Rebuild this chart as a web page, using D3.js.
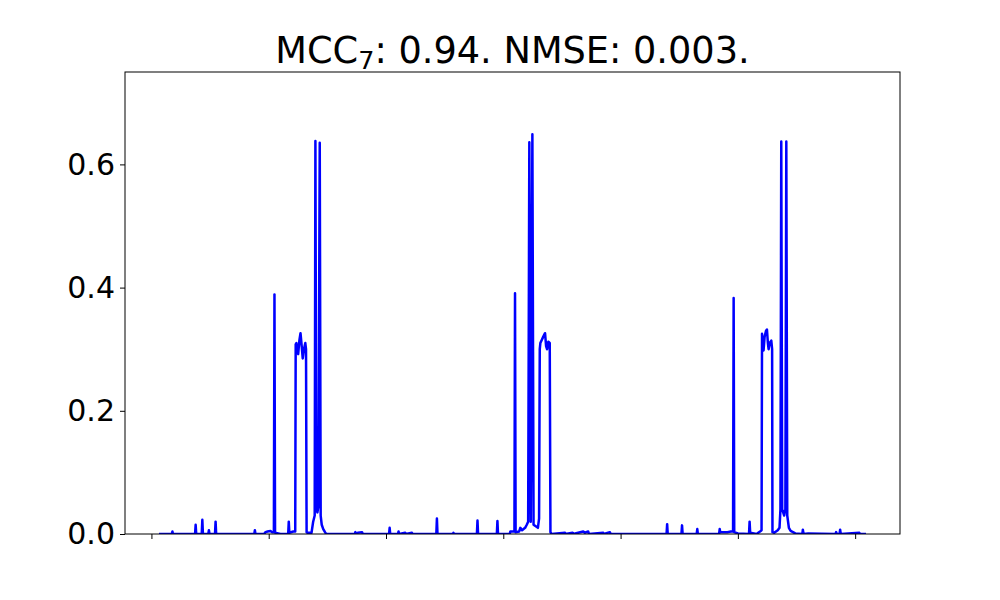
<!DOCTYPE html>
<html>
<head>
<meta charset="utf-8">
<script src="https://cdn.jsdelivr.net/npm/d3@7"></script>
<style>
  html, body { margin: 0; padding: 0; background: #fff; }
  svg { display: block; }
</style>
</head>
<body>
<svg id="chart" width="1000" height="600"></svg>
<script>
// ---- data ----
const titleMain = "MCC";
const titleSub = "7";
const titleRest = ": 0.94. NMSE: 0.003.";

const yTicks = [0.0, 0.2, 0.4, 0.6];
const xTicks = [0, 100, 200, 300, 400, 500, 600];

const signalX = [
  7.5, 17.4, 17.9, 18.4, 37.2, 37.7, 38.2, 42.9, 43.4, 43.9, 48.5, 49.0, 49.5,
  54.2, 54.7, 55.2, 87.7, 88.2, 88.7, 96, 97.3, 99, 101.5, 103, 104.4, 104.9, 105.4, 110,
  116.6, 117.1, 117.6, 121, 122.6, 123.0, 123.6, 125.1, 126.2, 127.1, 127.9, 129.0,
  130.0, 131.2, 131.8, 132.3, 133, 136.5, 137.9, 139.2, 139.8, 140.6, 141.5, 142.3,
  143.5, 144.3, 145.2, 146.5, 148, 149,
  173.4, 173.9, 174.4, 176, 179.6, 180.2, 202.6, 203.1, 203.6, 210.2, 210.7, 211.2,
  216.4, 217, 222.1, 222.6, 242.9, 243.4, 243.9, 257, 257.5, 258, 277.5, 278.0, 278.5,
  294.5, 295.0, 295.5,
  305.5, 306, 309.5, 310.0, 310.5, 313.5, 314.5, 316, 318.6, 320.0, 321.2, 322.2, 323.4,
  324.8, 325.8, 328, 329.5, 330.5, 331.1, 331.6, 332.8, 334, 335.6, 336.5, 337.3, 338.4,
  339.6, 340.2, 341,
  352.6, 353, 359.1, 359.6, 368.2, 369.5, 372.4, 373, 385.2, 385.7, 390.9, 391.5,
  439.2, 439.7, 440.2, 451.9, 452.4, 452.9, 464.9, 465.4, 465.9,
  484, 484.5, 485, 491, 494, 495.9, 496.4, 496.9, 500, 509.5, 510.0, 510.5, 516, 518, 519.5,
  520.2, 520.6, 521.3, 521.9, 522.8, 524.0, 524.8, 525.6, 526.2, 527.1, 528.5, 529.2, 529.5,
  531, 534, 535.5, 536.3, 537.0, 537.8, 539.5, 540.5, 541.3, 542.1, 543.5, 545, 547, 549,
  555, 555.4, 556, 560, 583.3, 583.8, 584.3, 586.7, 587.2, 587.7, 603.6, 604.2, 608.2
];
const signalY = [
  0, 0, 0.004, 0, 0, 0.015, 0, 0, 0.023, 0, 0, 0.006, 0,
  0, 0.02, 0, 0, 0.006, 0, 0, 0.003, 0.004, 0.005, 0.003, 0.003, 0.389, 0.002, 0,
  0, 0.02, 0.002, 0.004, 0.004, 0.308, 0.31, 0.292, 0.315, 0.326, 0.31, 0.285,
  0.3, 0.31, 0.3, 0.003, 0.002, 0.002, 0.02, 0.03, 0.638, 0.04, 0.035, 0.045,
  0.635, 0.03, 0.015, 0.008, 0.003, 0,
  0, 0.003, 0, 0.002, 0.003, 0, 0, 0.01, 0, 0, 0.004, 0,
  0.002, 0, 0.002, 0, 0, 0.025, 0, 0, 0.002, 0, 0, 0.022, 0,
  0, 0.021, 0,
  0, 0.004, 0.004, 0.391, 0.003, 0.004, 0.01, 0.006, 0.01, 0.015, 0.02, 0.636, 0.02,
  0.649, 0.015, 0.012, 0.01, 0.025, 0.3, 0.31, 0.315, 0.32, 0.326, 0.305, 0.3, 0.312,
  0.31, 0.003, 0,
  0.002, 0, 0.002, 0, 0.004, 0.002, 0.004, 0, 0.002, 0, 0.003, 0,
  0, 0.016, 0, 0, 0.014, 0, 0, 0.008, 0,
  0, 0.008, 0.003, 0.003, 0.004, 0.004, 0.383, 0.003, 0.001, 0, 0.02, 0.002, 0, 0.003, 0.005,
  0.006, 0.325, 0.31, 0.298, 0.32, 0.33, 0.332, 0.31, 0.3, 0.31, 0.314, 0.3, 0.003,
  0.002, 0.006, 0.01, 0.04, 0.637, 0.04, 0.03, 0.04, 0.637, 0.03, 0.01, 0.005, 0.003, 0.001,
  0, 0.007, 0, 0.001, 0, 0.003, 0, 0, 0.007, 0, 0.002, 0, 0
];

// ---- layout ----
const margin = { left: 125, right: 100, top: 72, bottom: 66 };
const W = 1000, H = 600;
const iw = W - margin.left - margin.right;
const ih = H - margin.top - margin.bottom;

const svg = d3.select("#chart");
const g = svg.append("g").attr("transform", `translate(${margin.left},${margin.top})`);

const [xmin, xmax] = d3.extent(signalX);
const pad = (xmax - xmin) * 0.05;
const x = d3.scaleLinear().domain([xmin - pad, xmax + pad]).range([0, iw]);
const y = d3.scaleLinear().domain([0, 0.75]).range([ih, 0]);

const pts = signalX.map((v, i) => [v, signalY[i]]);

g.append("defs").append("clipPath").attr("id", "clip")
  .append("rect").attr("width", iw).attr("height", ih);

g.append("path")
  .datum(pts)
  .attr("clip-path", "url(#clip)")
  .attr("fill", "none")
  .attr("stroke", "#0000ff")
  .attr("stroke-width", 2.5)
  .attr("stroke-linejoin", "round")
  .attr("stroke-linecap", "square")
  .attr("d", d3.line().x(d => x(d[0])).y(d => y(d[1])));

// axes
const yAxis = d3.axisLeft(y).tickValues(yTicks).tickFormat(d3.format(".1f"))
  .tickSize(5).tickPadding(5);
const xAxis = d3.axisBottom(x).tickValues(xTicks).tickFormat("")
  .tickSize(5);

const ya = g.append("g").call(yAxis);
const xa = g.append("g").attr("transform", `translate(0,${ih})`).call(xAxis);
[ya, xa].forEach(a => {
  a.select(".domain").remove();
  a.selectAll(".tick line").attr("stroke", "#000").attr("stroke-width", 1);
});
ya.selectAll(".tick text")
  .attr("font-family", "DejaVu Sans")
  .attr("font-size", 30)
  .attr("fill", "#000");

// frame
g.append("rect").attr("width", iw).attr("height", ih)
  .attr("fill", "none").attr("stroke", "#000").attr("stroke-width", 1);

// title
const t = svg.append("text")
  .attr("x", margin.left + iw / 2).attr("y", 63)
  .attr("text-anchor", "middle")
  .attr("font-family", "DejaVu Sans")
  .attr("font-size", 36.7)
  .attr("fill", "#000");
t.append("tspan").text(titleMain);
t.append("tspan").attr("font-size", 25.5).attr("dy", 6).text(titleSub);
t.append("tspan").attr("dy", -6).text(titleRest);
</script>
</body>
</html>
